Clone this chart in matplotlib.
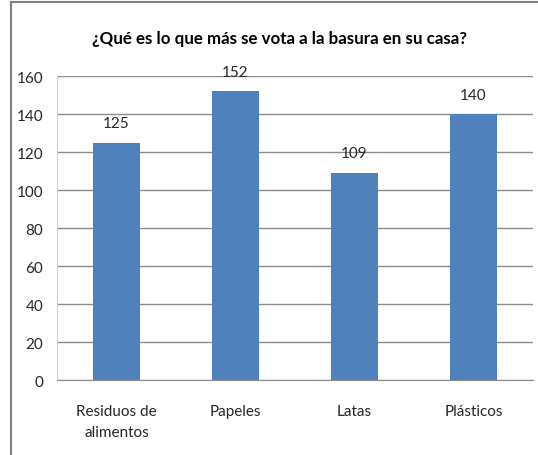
import matplotlib
matplotlib.use("Agg")
import matplotlib.pyplot as plt
from matplotlib.lines import Line2D

categories = ["Residuos de\nalimentos", "Papeles", "Latas", "Plásticos"]
values = [125, 152, 109, 140]
yticks = [0, 20, 40, 60, 80, 100, 120, 140, 160]
title = "¿Qué es lo que más se vota a la basura en su casa?"

plt.rcParams['font.family'] = ['Lato', 'DejaVu Sans']

fig = plt.figure(figsize=(5.38, 4.56), dpi=100)
ax = fig.add_axes([57/538, 1-381.3/456, (533-57)/538, (381.3-77)/456])

x = list(range(len(categories)))
ax.bar(x, values, width=0.4, color='#4F81BD', zorder=3)
ax.set_xlim(-0.5, len(categories)-0.5)
ax.set_ylim(0, 160)
ax.set_yticks(yticks)
ax.set_yticklabels([str(v) for v in yticks])
ax.set_xticks(x)
ax.set_xticklabels(categories, linespacing=1.6)
ax.grid(axis='y', color='#8c8c8c', linewidth=1, zorder=0)
ax.tick_params(axis='both', length=0, labelsize=11, colors='#262626')
ax.tick_params(axis='y', pad=10)
ax.tick_params(axis='x', pad=17)
for s in ['top', 'right']:
    ax.spines[s].set_visible(False)
ax.spines['left'].set_color('#d0d0d0')
ax.spines['bottom'].set_color('#8c8c8c')

for xi, v in zip(x, values):
    ax.annotate(str(v), (xi, v), xytext=(0, 9), textcoords='offset points',
                ha='center', va='bottom', fontsize=11, color='#262626')

fig.text(279/538, 1-39/456, title, ha='center', va='center',
         fontsize=12.2, fontweight='bold', color='#000000')

fig.add_artist(Line2D([11/538, 11/538], [0, 1-3/456], transform=fig.transFigure,
                      color='#808080', linewidth=1.5))
fig.add_artist(Line2D([11/538, 1], [1-3/456, 1-3/456], transform=fig.transFigure,
                      color='#808080', linewidth=1.5))

fig.savefig("out.png", dpi=100)
